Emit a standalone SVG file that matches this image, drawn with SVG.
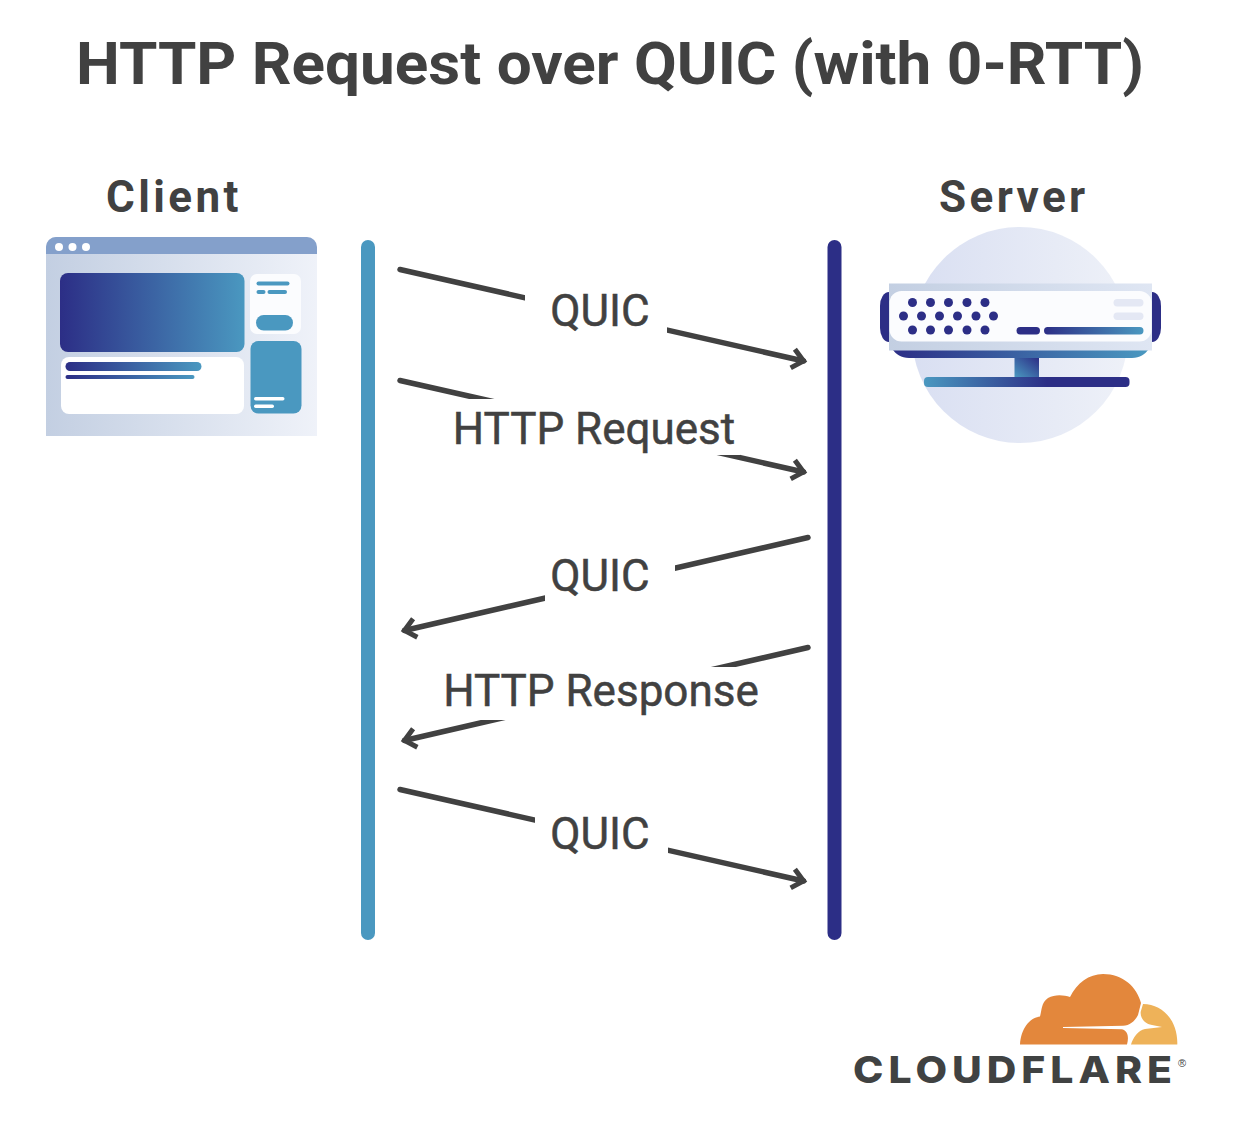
<svg xmlns="http://www.w3.org/2000/svg" width="1258" height="1136" viewBox="0 0 1258 1136">
<style>
text{font-family:Roboto,"Liberation Sans",sans-serif;fill:#414141}
.title{font-size:60px;font-weight:700}
.head{font-size:44px;font-weight:700;letter-spacing:3.4px}
.lab{font-size:44px;font-weight:400;stroke:#414141;stroke-width:.5px}
.conn{fill:none;stroke:#414141;stroke-width:5.5;stroke-linecap:round;stroke-linejoin:miter}
.mask{fill:#fff}
.d{fill:#2c2e86}
.w{fill:#fff}
</style>
<defs>
<linearGradient id="gPage" x1="0" x2="1" y1="0" y2="0"><stop offset="0" stop-color="#c3cfe2"/><stop offset="1" stop-color="#eff2f9"/></linearGradient>
<linearGradient id="gBlue" x1="0" x2="1" y1="0" y2="0"><stop offset="0" stop-color="#2c2e86"/><stop offset="1" stop-color="#4a98c0"/></linearGradient>
<linearGradient id="gBlueR" x1="0" x2="1" y1="0" y2="0"><stop offset="0" stop-color="#4a98c0"/><stop offset=".6" stop-color="#2c2e86"/></linearGradient>
<linearGradient id="gCircle" x1="0" x2="1" y1="0" y2="0"><stop offset="0" stop-color="#d9dff2"/><stop offset="1" stop-color="#eef1f8"/></linearGradient>
<linearGradient id="gChassis" x1="0" x2="1" y1="0" y2="0"><stop offset="0" stop-color="#c3cfe2"/><stop offset="1" stop-color="#dfe6f3"/></linearGradient>
<linearGradient id="gStem" x1="0" x2="1" y1="1" y2="0"><stop offset="0" stop-color="#4a98c0"/><stop offset="1" stop-color="#2c2e86"/></linearGradient>
<marker id="arr" viewBox="0 0 24 24" refX="16" refY="12" markerWidth="24" markerHeight="24" markerUnits="userSpaceOnUse" orient="auto"><path d="M5 2.500L16 12L5 21.500" fill="none" stroke="#414141" stroke-width="5"/></marker>
</defs>
<rect width="1258" height="1136" fill="#fff"/>
<text class="title" x="76" y="84" textLength="1068" lengthAdjust="spacingAndGlyphs">HTTP Request over QUIC (with 0-RTT)</text>

<g id="client">
<text class="head" x="106" y="212">Client</text>
<path d="M46 254V247a10 10 0 0 1 10-10H307a10 10 0 0 1 10 10V436H46Z" fill="url(#gPage)"/>
<path d="M46 254V247a10 10 0 0 1 10-10H307a10 10 0 0 1 10 10V254Z" fill="#84a0cb"/>
<circle class="w" cx="59" cy="247" r="4"/><circle class="w" cx="72.500" cy="247" r="4"/><circle class="w" cx="86" cy="247" r="4"/>
<rect x="60" y="273" width="184.500" height="79" rx="8" fill="url(#gBlue)"/>
<rect class="w" x="61" y="357" width="183" height="57" rx="8"/>
<rect x="65.500" y="362" width="136" height="9" rx="4.500" fill="url(#gBlue)"/>
<rect x="65.500" y="375" width="129" height="4" rx="2" fill="url(#gBlue)"/>
<rect x="250" y="274" width="51" height="60" rx="7" fill="#fbfcfe"/>
<rect x="256.500" y="281.500" width="33" height="4" rx="2" fill="#4a98c0"/>
<rect x="256.500" y="290" width="9" height="4" rx="2" fill="#4a98c0"/>
<rect x="267.500" y="290" width="19.500" height="4" rx="2" fill="#4a98c0"/>
<rect x="256" y="315" width="37" height="15.500" rx="7.700" fill="#4a98c0"/>
<rect x="250.500" y="341" width="51" height="72.500" rx="8" fill="#4a98c0"/>
<rect class="w" x="254" y="397" width="30.500" height="3.500" rx="1.700"/>
<rect class="w" x="254" y="404.500" width="20" height="3.500" rx="1.700"/>
</g>

<g id="server">
<text class="head" x="939" y="212">Server</text>
<circle cx="1020" cy="335" r="108" fill="url(#gCircle)"/>
<path d="M889 292a9 14 0 0 0-9 14V328a9 14 0 0 0 9 14Z" class="d"/>
<path d="M1152 292a9 14 0 0 1 9 14V328a9 14 0 0 1-9 14Z" class="d"/>
<path d="M893 350H1148C1145 354 1140 358 1132 358H909C901 358 896 354 893 350Z" fill="url(#gBlue)"/>
<rect x="1014.500" y="358" width="24.500" height="19" fill="url(#gStem)"/>
<rect x="924" y="377" width="205.500" height="10" rx="4" fill="url(#gBlueR)"/>
<rect x="889" y="283.500" width="263" height="67" fill="url(#gChassis)"/>
<rect x="889.500" y="291" width="262" height="50.500" rx="12" fill="#fbfcfe"/>
<g class="d">
<circle cx="912.500" cy="302.500" r="4.500"/><circle cx="930.500" cy="302.500" r="4.500"/><circle cx="948.500" cy="302.500" r="4.500"/><circle cx="967" cy="302.500" r="4.500"/><circle cx="985" cy="302.500" r="4.500"/>
<circle cx="903.500" cy="316" r="4.500"/><circle cx="921.500" cy="316" r="4.500"/><circle cx="939.500" cy="316" r="4.500"/><circle cx="957.500" cy="316" r="4.500"/><circle cx="976" cy="316" r="4.500"/><circle cx="993.500" cy="316" r="4.500"/>
<circle cx="912.500" cy="330" r="4.500"/><circle cx="930.500" cy="330" r="4.500"/><circle cx="948.500" cy="330" r="4.500"/><circle cx="967" cy="330" r="4.500"/><circle cx="985" cy="330" r="4.500"/>
<rect x="1016.500" y="327" width="23.500" height="7.500" rx="3.700"/>
</g>
<rect x="1044" y="327" width="99.500" height="7.500" rx="3.700" fill="url(#gBlue)"/>
<rect x="1113.500" y="299" width="30" height="7.500" rx="3.700" fill="#e4e8f4"/>
<rect x="1113.500" y="312.500" width="30" height="7.500" rx="3.700" fill="#e4e8f4"/>
</g>

<g id="lifelines">
<rect id="client-line" x="361" y="240" width="14" height="700" rx="7" fill="#4a98c0"/>
<rect id="server-line" x="827.500" y="240" width="14" height="700" rx="7" fill="#2c2e86"/>
</g>

<g id="connectors">
<path class="conn" d="M400 269.500L803.500 361" marker-end="url(#arr)"/>
<path class="conn" d="M400 380.500L803.500 472" marker-end="url(#arr)"/>
<path class="conn" d="M808 537.500L404.500 630.500" marker-end="url(#arr)"/>
<path class="conn" d="M808 647.500L404.500 740.500" marker-end="url(#arr)"/>
<path class="conn" d="M400 789.500L803.500 881" marker-end="url(#arr)"/>
</g>

<g id="labels">
<rect class="mask" x="525" y="280" width="142" height="62"/>
<text class="lab" x="600" y="326" text-anchor="middle">QUIC</text>
<rect class="mask" x="440" y="399" width="300" height="56"/>
<text class="lab" x="594" y="443.500" text-anchor="middle">HTTP Request</text>
<rect class="mask" x="545" y="545" width="130" height="65"/>
<text class="lab" x="600" y="591" text-anchor="middle">QUIC</text>
<rect class="mask" x="430" y="667" width="340" height="53"/>
<text class="lab" x="601" y="706" text-anchor="middle">HTTP Response</text>
<rect class="mask" x="535" y="800" width="133" height="65"/>
<text class="lab" x="600" y="849" text-anchor="middle">QUIC</text>
</g>

<g id="cloudflare-logo">
<path d="M1020 1044.500C1021 1029 1029 1018 1040 1016.500C1042 1010 1041 1003 1048 998C1055 994 1064 995 1070 997C1077 983 1089 974 1103 974C1123 974 1137 987 1141 1003L1138 1015C1135 1021 1130 1025.500 1123 1025.700L1063 1027V1028L1122 1029.300C1128 1031 1129 1037 1127 1044.500Z" fill="#e3873c"/>
<path d="M1143 1004C1163 1004 1178 1021 1177.300 1044.500H1131C1133 1038 1138 1030 1145 1029L1162 1027L1152 1025C1145 1024 1140 1018 1140.700 1011.700Z" fill="#eeb259"/>
<text x="853" y="1083" font-size="37" letter-spacing="4.500" style="font-family:Inter,sans-serif;font-weight:800;fill:#404242" textLength="324" lengthAdjust="spacingAndGlyphs">CLOUDFLARE</text>
<text x="1178" y="1067" font-size="11" style="font-family:'Liberation Sans',sans-serif;fill:#404242">®</text>
</g>
</svg>
